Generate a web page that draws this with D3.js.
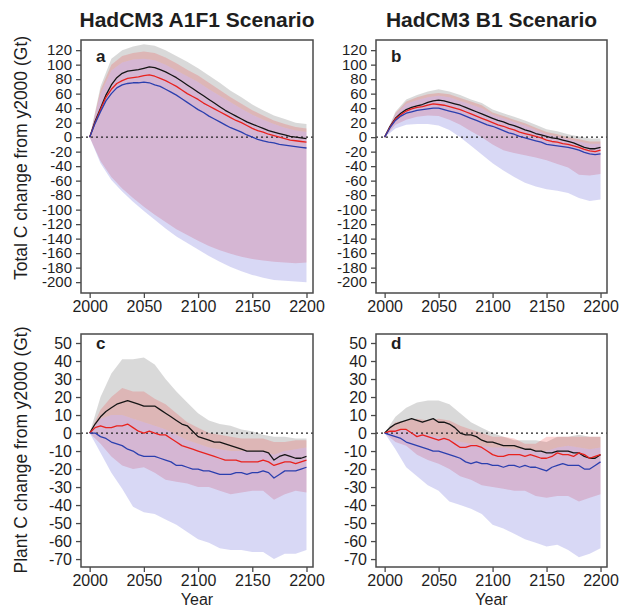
<!DOCTYPE html>
<html>
<head>
<meta charset="utf-8">
<script src="https://cdn.jsdelivr.net/npm/d3@7"></script>
<style>
  body { margin:0; background:#fff; }
  svg { display:block; font-family:"Liberation Sans", Arial, sans-serif; }
</style>
</head>
<body>
<svg id="chart" width="619" height="608"></svg>
<script>
/* ---------- Data ---------- */
// lines every 5 years, envelopes every 10 years
const years5  = d3.range(2000, 2201, 5);
const years10 = d3.range(2000, 2201, 10);

const topTicks    = [120,100,80,60,40,20,0,-20,-40,-60,-80,-100,-120,-140,-160,-180,-200];
const bottomTicks = [50,40,30,20,10,0,-10,-20,-30,-40,-50,-60,-70];
const yearTicks   = [2000, 2050, 2100, 2150, 2200];

const colTitles = ['HadCM3 A1F1 Scenario', 'HadCM3 B1 Scenario'];
const rowTitles = ['Total C change from y2000 (Gt)', 'Plant C change from y2000 (Gt)'];

// panel a: total C, A1F1
const aBlack = [0,22,40,58,72,82,88,91,92,93,95,97,96,93,90,86,82,77,72,67,62,57,52,47,42,37,33,29,25,21,18,15,12,9,7,5,3,1,0,-1,-2];
const aRed   = [0,20,38,55,66,74,78,81,82,83,85,86,84,81,78,74,70,65,60,56,52,47,43,39,35,31,27,23,20,16,12,9,7,4,2,0,-2,-4,-5,-6,-7];
const aBlue  = [0,19,35,50,60,68,72,74,75,75,76,75,72,70,66,62,58,53,48,43,38,34,29,25,21,17,13,10,7,3,0,-3,-5,-7,-8,-10,-11,-12,-13,-14,-15];
const aGrayHi = [0,70,108,120,125,128,126,120,112,104,95,85,75,64,55,45,37,30,25,20,18];
const aGrayLo = [0,60,92,103,107,108,106,100,92,84,76,66,57,48,39,31,24,18,13,9,7];
const aRedHi  = [0,65,100,112,116,118,116,110,102,93,85,75,65,55,46,37,30,23,18,14,12];
const aRedLo  = [0,-33,-55,-71,-84,-96,-107,-117,-127,-135,-143,-150,-156,-161,-165,-168,-170,-172,-173,-174,-173];
const aBlueHi = [0,60,92,103,107,108,106,100,92,84,76,66,57,48,39,31,24,18,13,9,7];
const aBlueLo = [0,-36,-59,-75,-89,-102,-114,-126,-137,-146,-155,-164,-172,-179,-185,-190,-194,-197,-198,-199,-200];

// panel b: total C, B1
const bBlack = [0,15,26,33,38,41,43,45,48,50,51,50,48,46,44,41,38,35,32,29,26,23,21,18,16,13,10,8,5,3,1,-1,-2,-4,-6,-8,-11,-14,-16,-16,-14];
const bRed   = [0,14,25,31,36,39,41,42,44,46,45,44,42,40,38,35,32,29,26,23,20,17,15,12,10,7,5,3,1,-1,-4,-6,-7,-9,-10,-12,-14,-17,-19,-20,-18];
const bBlue  = [0,13,23,29,33,35,37,38,39,40,40,38,36,34,32,29,26,23,20,17,15,12,9,6,4,1,-1,-3,-5,-7,-10,-11,-12,-13,-14,-16,-18,-21,-23,-24,-23];
const bGrayHi = [0,35,52,58,63,66,63,58,52,47,38,33,28,23,17,11,8,4,1,-2,-2];
const bGrayLo = [0,31,46,51,55,57,55,50,45,40,31,26,21,16,10,4,1,-3,-6,-9,-9];
const bRedHi  = [0,33,49,55,59,61,59,54,49,44,34,29,24,19,13,7,4,0,-3,-6,-6];
const bRedLo  = [0,17,24,28,30,29,24,17,8,0,-10,-18,-22,-25,-28,-32,-37,-42,-52,-53,-51];
const bBlueHi = [0,31,46,51,55,57,55,50,45,40,31,26,21,16,10,4,1,-3,-6,-9,-9];
const bBlueLo = [0,12,17,18,18,16,10,0,-12,-24,-36,-46,-55,-63,-68,-72,-74,-77,-84,-88,-86];

// panel c: plant C, A1F1
const cBlack = [0,5,9,12,14,16,17,18,17,16,15,15,15,13,11,9,7,5,4,1,-2,-3,-4,-5,-5,-6,-7,-8,-9,-10,-10,-10,-10,-11,-15,-13,-12,-13,-14,-14,-13];
const cRed   = [0,3,4,3,3,4,4,5,3,1,0,1,0,-1,-1,-3,-5,-7,-8,-9,-10,-11,-12,-13,-14,-15,-15,-15,-16,-16,-16,-16,-15,-16,-18,-17,-16,-16,-17,-16,-15];
const cBlue  = [0,0,-2,-3,-5,-6,-7,-9,-10,-12,-13,-13,-13,-14,-15,-16,-18,-18,-19,-20,-20,-21,-21,-22,-23,-23,-23,-22,-22,-23,-22,-22,-21,-22,-25,-23,-21,-21,-21,-20,-19];
const cGrayHi = [0,20,33,41,41,42,38,30,23,17,11,7,5,4,2,1,-1,-2,-2,-3,-3];
const cGrayLo = [0,8,10,10,8,6,4,2,-1,-4,-6,-8,-9,-10,-10,-10,-10,-12,-10,-9,-8];
const cRedHi  = [0,13,20,25,23,23,19,16,11,6,3,0,-1,-2,-3,-3,-3,-5,-5,-4,-4];
const cRedLo  = [0,-6,-13,-18,-20,-19,-22,-26,-27,-28,-30,-30,-32,-34,-33,-32,-32,-37,-34,-32,-33];
const cBlueHi = [0,8,10,10,8,6,4,2,-1,-4,-6,-8,-9,-10,-10,-10,-10,-12,-10,-9,-8];
const cBlueLo = [0,-11,-22,-31,-41,-44,-45,-48,-51,-55,-59,-61,-64,-65,-65,-66,-66,-70,-67,-67,-65];

// panel d: plant C, B1
const dBlack = [0,3,5,6,7,8,7,6,7,8,6,6,5,3,0,-1,-1,-2,-4,-5,-5,-6,-7,-7,-7,-8,-9,-9,-10,-10,-11,-11,-10,-10,-10,-11,-11,-13,-14,-14,-12];
const dRed   = [0,1,1,2,2,0,-2,-1,-2,-3,-4,-3,-4,-6,-8,-8,-7,-7,-8,-10,-12,-13,-13,-12,-12,-12,-13,-12,-13,-14,-14,-13,-11,-12,-12,-13,-11,-12,-14,-13,-12];
const dBlue  = [0,-1,-2,-3,-5,-6,-7,-8,-9,-10,-10,-11,-12,-13,-14,-16,-17,-16,-17,-17,-18,-18,-19,-18,-18,-19,-18,-19,-19,-20,-21,-19,-18,-17,-18,-18,-18,-20,-20,-18,-16];
const dGrayHi = [0,9,14,17,18,18,16,11,6,3,0,-2,-4,-4,-4,-5,-2,-2,-1,-2,-2];
const dGrayLo = [0,2,2,0,-1,-2,-3,-5,-6,-7,-8,-8,-9,-9,-10,-10,-8,-7,-8,-9,-8];
const dRedHi  = [0,6,7,8,7,8,7,4,2,0,-2,-2,-3,-6,-6,-2,-2,-2,-2,-2,-2];
const dRedLo  = [0,-5,-7,-12,-15,-17,-20,-24,-26,-29,-30,-31,-32,-32,-35,-36,-35,-35,-38,-36,-34];
const dBlueHi = [0,2,2,0,-1,-2,-3,-5,-6,-7,-8,-8,-9,-9,-10,-10,-8,-7,-8,-9,-8];
const dBlueLo = [0,-9,-19,-24,-29,-32,-38,-40,-42,-45,-51,-53,-56,-59,-61,-63,-62,-65,-69,-67,-64];

/* ---------- Layout ---------- */
const cols = [{x0:81, x1:313}, {x0:376, x1:607}];
const rows = [
  {y0:40,  y1:293, domain:[-215, 134],  ticks:topTicks,    tickFont:'15px', labelMid:158},
  {y0:334, y1:567, domain:[-74.4, 55],  ticks:bottomTicks, tickFont:'16px', labelMid:450}
];
const xDomain = [1992, 2206];

const panels = [
  {letter:'a', col:0, row:0, black:aBlack, red:aRed, blue:aBlue,
   bands:[[aGrayLo,aGrayHi],[aRedLo,aRedHi],[aBlueLo,aBlueHi]]},
  {letter:'b', col:1, row:0, black:bBlack, red:bRed, blue:bBlue,
   bands:[[bGrayLo,bGrayHi],[bRedLo,bRedHi],[bBlueLo,bBlueHi]]},
  {letter:'c', col:0, row:1, black:cBlack, red:cRed, blue:cBlue,
   bands:[[cGrayLo,cGrayHi],[cRedLo,cRedHi],[cBlueLo,cBlueHi]]},
  {letter:'d', col:1, row:1, black:dBlack, red:dRed, blue:dBlue,
   bands:[[dGrayLo,dGrayHi],[dRedLo,dRedHi],[dBlueLo,dBlueHi]]}
];

const bandFill = ['rgba(0,0,0,0.15)', 'rgba(240,45,45,0.2)', 'rgba(50,50,200,0.19)'];
const lineCol  = ['#151515', '#e8221e', '#2b3fae'];
const frameCol = '#4a4a4a';
const textCol  = '#1e1e1e';

const svg = d3.select('#chart');

/* ---------- Titles ---------- */
svg.selectAll('.col-title').data(colTitles).enter().append('text')
  .attr('class','col-title')
  .attr('x', (d,i) => (cols[i].x0 + cols[i].x1)/2)
  .attr('y', 27)
  .attr('text-anchor','middle')
  .style('font-size','21px').style('font-weight','bold').style('fill',textCol)
  .text(d => d);

svg.selectAll('.row-title').data(rowTitles).enter().append('text')
  .attr('class','row-title')
  .attr('transform', (d,i) => `translate(27,${rows[i].labelMid}) rotate(-90)`)
  .attr('text-anchor','middle')
  .style('font-size','17.5px').style('fill',textCol)
  .text(d => d);

svg.selectAll('.x-title').data(cols).enter().append('text')
  .attr('class','x-title')
  .attr('x', d => (d.x0 + d.x1)/2)
  .attr('y', 605)
  .attr('text-anchor','middle')
  .style('font-size','16px').style('fill',textCol)
  .text('Year');

/* ---------- Panels ---------- */
panels.forEach((p, pi) => {
  const c = cols[p.col], r = rows[p.row];
  const x = d3.scaleLinear().domain(xDomain).range([c.x0, c.x1]);
  const y = d3.scaleLinear().domain(r.domain).range([r.y1, r.y0]);
  const g = svg.append('g');

  const clipId = 'clip' + pi;
  svg.append('clipPath').attr('id', clipId).append('rect')
    .attr('x', c.x0).attr('y', r.y0).attr('width', c.x1 - c.x0).attr('height', r.y1 - r.y0);
  const plot = g.append('g').attr('clip-path', `url(#${clipId})`);

  // envelopes
  p.bands.forEach((b, bi) => {
    const area = d3.area()
      .x((d,i) => x(years10[i]))
      .y0((d,i) => y(b[0][i]))
      .y1((d,i) => y(b[1][i]));
    plot.append('path').datum(years10).attr('d', area)
      .style('fill', bandFill[bi]).style('stroke','none');
  });

  // zero reference
  plot.append('line')
    .attr('x1', c.x0).attr('x2', c.x1).attr('y1', y(0)).attr('y2', y(0))
    .style('stroke','#222').style('stroke-width',1.3).style('stroke-dasharray','2,3');

  // medians
  [p.black, p.red, p.blue].forEach((s, si) => {
    const line = d3.line().x((d,i) => x(years5[i])).y(d => y(d));
    plot.append('path').datum(s).attr('d', line)
      .style('fill','none').style('stroke', lineCol[si]).style('stroke-width',1.3)
      .style('stroke-linejoin','round');
  });

  // axes
  const yAxis = d3.axisLeft(y).tickValues(r.ticks).tickSize(5).tickPadding(4);
  const xAxis = d3.axisBottom(x).tickValues(yearTicks).tickFormat(d3.format('d')).tickSize(5).tickPadding(3);
  const ya = g.append('g').attr('transform', `translate(${c.x0},0)`).call(yAxis);
  const xa = g.append('g').attr('transform', `translate(0,${r.y1})`).call(xAxis);
  [ya, xa].forEach(a => {
    a.select('.domain').remove();
    a.selectAll('line').style('stroke', frameCol).style('stroke-width',1.3);
    a.selectAll('text').style('fill',textCol)
      .style('font-family','"Liberation Sans", Arial, sans-serif');
  });
  ya.selectAll('text').style('font-size', r.tickFont).text(d => String(d));
  xa.selectAll('text').style('font-size','16px');

  // frame
  g.append('rect')
    .attr('x', c.x0).attr('y', r.y0).attr('width', c.x1 - c.x0).attr('height', r.y1 - r.y0)
    .style('fill','none').style('stroke', frameCol).style('stroke-width',1.5);

  // panel letter
  g.append('text')
    .attr('x', c.x0 + 15).attr('y', r.y0 + (p.row === 0 ? 22 : 15))
    .style('font-size','17px').style('font-weight','bold').style('fill',textCol)
    .text(p.letter);
});
</script>
</body>
</html>
